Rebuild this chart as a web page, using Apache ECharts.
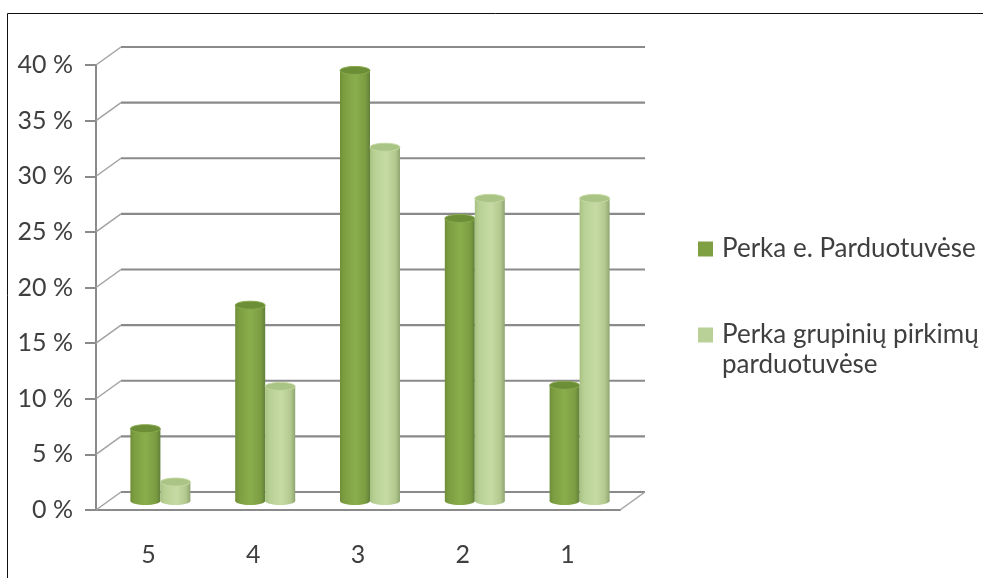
<!DOCTYPE html>
<html>
<head>
<meta charset="utf-8">
<style>html,body{margin:0;padding:0;background:#fff}#chart{width:983px;height:578px}</style>
<script src="https://cdn.jsdelivr.net/npm/echarts@6/dist/echarts.min.js"></script>
</head>
<body>
<div id="chart"></div>
<script>
const categories = ['5', '4', '3', '2', '1'];
const eShops = [6.5, 17.6, 38.7, 25.4, 10.4];
const groupShops = [1.7, 10.3, 31.8, 27.2, 27.2];
const valueTicks = [0, 5, 10, 15, 20, 25, 30, 35, 40];
const eShopsName = 'Perka e. Parduotuvėse';
const groupShopsName = 'Perka grupinių pirkimų parduotuvėse';

// Pseudo-3D projection: how far the back wall sits from the front plane.
const DEPTH_X = 25, DEPTH_Y = 18;
const AXIS_COLOR = '#8a8a8a';
const TEXT_COLOR = '#3f3f3f';
const FONT = 'Lato';

const chart = echarts.init(document.getElementById('chart'));

// Wall gridlines: a short slanted run from the axis, then across the back wall.
function renderWall(params, api) {
  const cs = params.coordSys;
  const y = api.coord([0, api.value(0)])[1];
  const x0 = cs.x, x1 = cs.x + cs.width;
  const stroke = { stroke: AXIS_COLOR, lineWidth: 2.2, fill: null };
  const children = [
    { type: 'line', shape: { x1: x0, y1: y, x2: x0 + DEPTH_X, y2: y - DEPTH_Y },
      style: { stroke: '#a2a2a2', lineWidth: 1.5 } },
    { type: 'line', shape: { x1: x0 + DEPTH_X, y1: y - DEPTH_Y, x2: x1 + DEPTH_X, y2: y - DEPTH_Y },
      style: stroke }
  ];
  if (api.value(0) === 0) {
    children.push({ type: 'line', shape: { x1: x1, y1: y, x2: x1 + DEPTH_X, y2: y - DEPTH_Y },
      style: { stroke: '#a2a2a2', lineWidth: 1.5 } });
  }
  return { type: 'group', children };
}

// Cylinder bars standing mid-depth on the floor; side is -1 or +1 within a category.
function cylinder(side, stops, topFill, rim) {
  return function (params, api) {
    const idx = api.value(0);
    const w = 30, ry = 4;
    const base = api.coord([idx, 0]);
    const top = api.coord([idx, api.value(1)]);
    const cx = base[0] + 12 + side * w / 2;
    const yBase = base[1] - 9;
    const yTop = top[1] - 9;
    const grad = new echarts.graphic.LinearGradient(0, 0, 1, 0, stops);
    return {
      type: 'group',
      children: [
        { type: 'ellipse', shape: { cx, cy: yBase, rx: w / 2, ry }, style: { fill: grad } },
        { type: 'rect', shape: { x: cx - w / 2, y: yTop, width: w, height: yBase - yTop }, style: { fill: grad } },
        { type: 'ellipse', shape: { cx, cy: yTop, rx: w / 2, ry },
          style: { fill: topFill, stroke: rim, lineWidth: 1 } }
      ]
    };
  };
}

const darkStops = [
  { offset: 0, color: '#6f8f38' }, { offset: 0.12, color: '#7c9c40' },
  { offset: 0.5, color: '#8aae4c' }, { offset: 0.85, color: '#7c9c42' }, { offset: 1, color: '#62803a' }
];
const lightStops = [
  { offset: 0, color: '#a8c283' }, { offset: 0.15, color: '#b8d094' },
  { offset: 0.55, color: '#c6dba4' }, { offset: 0.85, color: '#b2c88e' }, { offset: 1, color: '#8ea570' }
];

chart.setOption({
  animation: false,
  backgroundColor: '#fff',
  grid: { left: 96, right: 363, top: 65, bottom: 68 },
  xAxis: {
    type: 'category',
    data: categories,
    axisLine: { lineStyle: { color: AXIS_COLOR, width: 2 } },
    axisTick: { length: 8, lineStyle: { color: AXIS_COLOR, width: 2 } },
    axisLabel: { color: TEXT_COLOR, fontFamily: FONT, fontSize: 25, margin: 32 }
  },
  yAxis: {
    type: 'value', min: 0, max: 40, interval: 5,
    splitLine: { show: false },
    axisLine: { show: true, lineStyle: { color: AXIS_COLOR, width: 2 } },
    axisTick: { show: true, length: 11, lineStyle: { color: AXIS_COLOR, width: 2 } },
    axisLabel: { color: TEXT_COLOR, fontFamily: FONT, fontSize: 25, margin: 23, formatter: '{value} %' }
  },
  legend: [
    { left: 693, top: 231, icon: 'rect', itemWidth: 15, itemHeight: 15, data: [eShopsName],
      textStyle: { color: TEXT_COLOR, fontFamily: FONT, fontSize: 26, padding: [0, 0, 0, 4] }, selectedMode: false },
    { left: 693, top: 317, icon: 'rect', itemWidth: 15, itemHeight: 15, data: [groupShopsName],
      formatter: () => 'Perka grupinių pirkimų',
      textStyle: { color: TEXT_COLOR, fontFamily: FONT, fontSize: 26, padding: [0, 0, 0, 4] }, selectedMode: false }
  ],
  graphic: [
    { type: 'polyline', silent: true, shape: { points: [[7.5, 578], [7.5, 13.5], [983, 13.5]] },
      style: { stroke: '#111', lineWidth: 1, fill: null } },
    { type: 'text', left: 722, top: 352, silent: true,
      style: { text: 'parduotuvėse', fill: TEXT_COLOR, fontFamily: FONT, fontSize: 26 } }
  ],
  series: [
    { type: 'custom', name: 'wall', silent: true, clip: false, z: 1, renderItem: renderWall,
      coordinateSystem: 'cartesian2d', encode: { y: 0 }, data: valueTicks.map(v => [v]) },
    { type: 'custom', name: eShopsName, silent: true, clip: false, z: 2,
      itemStyle: { color: '#7f9f43' },
      renderItem: cylinder(-1, darkStops, '#6c8e36', '#89aa4e'),
      encode: { x: 0, y: 1 }, data: eShops.map((v, i) => [i, v]) },
    { type: 'custom', name: groupShopsName, silent: true, clip: false, z: 3,
      itemStyle: { color: '#b9d096' },
      renderItem: cylinder(1, lightStops, '#aac485', '#c3d8a0'),
      encode: { x: 0, y: 1 }, data: groupShops.map((v, i) => [i, v]) }
  ]
});
</script>
</body>
</html>
